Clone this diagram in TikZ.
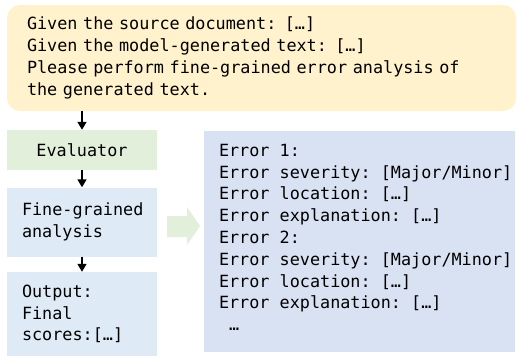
\documentclass[tikz,border=0pt]{standalone}
\usepackage{fontspec}
\setmonofont{DejaVu Sans Mono}
\usetikzlibrary{arrows.meta}
\definecolor{promptyellow}{HTML}{FFF2CC}
\definecolor{evalgreen}{HTML}{E2EFDA}
\definecolor{stepblue}{HTML}{DEEAF6}
\definecolor{errblue}{HTML}{D9E2F3}
\tikzset{
  panel/.style={inner sep=0pt, font=\ttfamily\fontsize{16.8}{21.8}\selectfont},
  flow/.style={line width=1.5pt, -{Triangle[width=9pt,length=8pt]}}
}

\begin{document}
\begin{tikzpicture}[x=1pt, y=-1pt]
		%%%%% START %%%%%
		\useasboundingbox (0,0) rectangle (518,356);
		
		\node[panel, fill=promptyellow, rounded corners=13pt, minimum width=509pt, minimum height=106pt, text width=469pt, inner xsep=20pt, align=left] (prompt) at (261.5,58) {Given the source document: […]\\Given the model-generated text: […]\\Please perform fine-grained error analysis of\\the generated text.};
		
		\node[panel, fill=evalgreen, minimum width=150pt, minimum height=40pt] (eval) at (82,150) {Evaluator};
		\node[panel, fill=stepblue, minimum width=150pt, minimum height=69pt, text width=120pt, inner xsep=15pt, align=left] (fine) at (82,222) {Fine-grained\\analysis};
		\node[panel, fill=stepblue, minimum width=150pt, minimum height=84pt, text width=120pt, inner xsep=15pt, align=left] (out) at (82,314) {Output:\\Final\\scores:[…]};
		
		\node[fill=errblue, minimum width=311pt, minimum height=221pt, inner sep=0pt] (errbox) at (359.5,241.5) {};
		\node[panel, anchor=north west, align=left] (errtext) at ([xshift=15pt, yshift=-13pt]errbox.north west) {Error 1:\\Error severity: [Major/Minor]\\Error location: […]\\Error explanation: […]\\Error 2:\\Error severity: [Major/Minor]\\Error location: […]\\Error explanation: […]\\~…};
		
		\draw[flow] (prompt.south -| eval.north) -- (eval.north);
		\draw[flow] (eval) -- (fine);
		\draw[flow] (fine) -- (out);
		
		\fill[evalgreen] (167,216) -- (187,216) -- (187,207) -- (200,226) -- (187,245) -- (187,237) -- (167,237) -- cycle;
		
		%%%%% END %%%%%
\end{tikzpicture}
\end{document}
